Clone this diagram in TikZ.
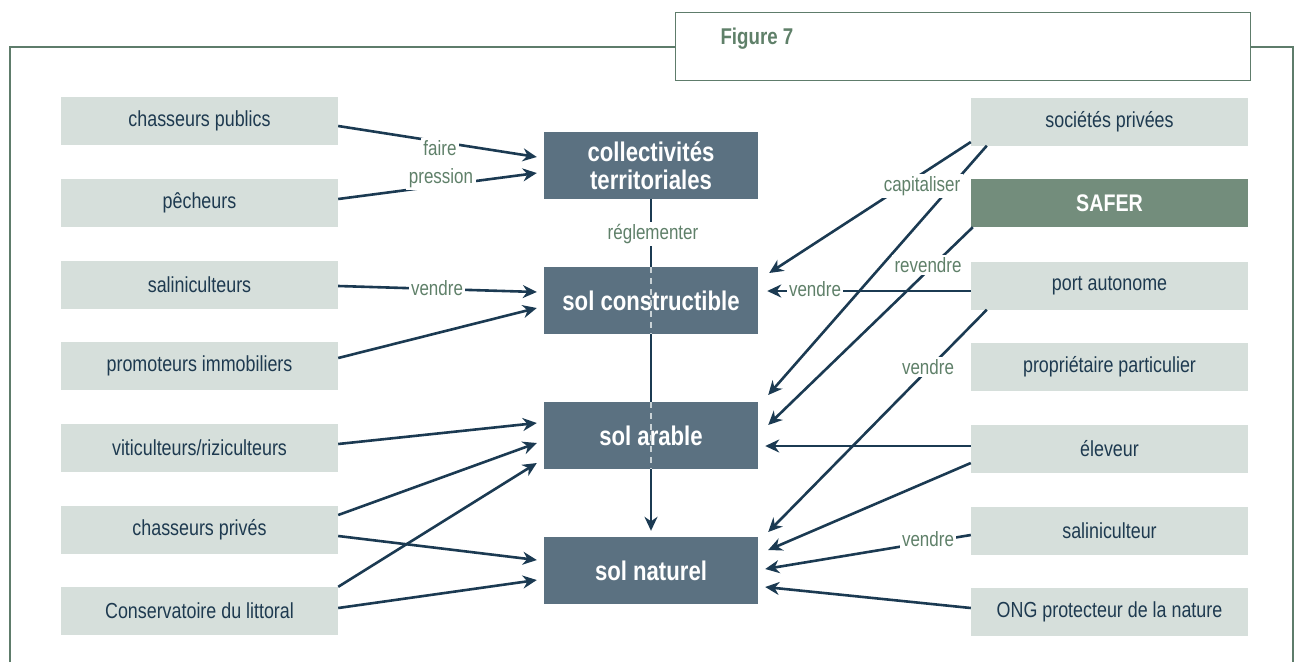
\documentclass[tikz,border=0pt]{standalone}
\usepackage{fontspec}
\setmainfont{Liberation Sans}[FakeStretch=0.82]
\usetikzlibrary{arrows.meta}
\definecolor{framec}{HTML}{5E7C6B}
\definecolor{lightbox}{HTML}{D6DFDB}
\definecolor{darktext}{HTML}{1E3A50}
\definecolor{midbox}{HTML}{5B7181}
\definecolor{saferc}{HTML}{738D7C}
\definecolor{lblc}{HTML}{5F8069}
\definecolor{linec}{HTML}{1B3A52}
\definecolor{dashc}{HTML}{C9D2D6}
\begin{document}
\begin{tikzpicture}[x=1pt,y=-1pt,
  actor/.style={fill=lightbox, minimum width=277pt, minimum height=48pt, inner sep=0pt, text=darktext, font=\fontsize{21.8}{24}\selectfont},
  safer/.style={actor, fill=saferc, text=white, font=\bfseries\fontsize{24}{26}\selectfont},
  soil/.style={fill=midbox, minimum width=214pt, minimum height=67pt, inner sep=0pt, text=white, font=\bfseries\fontsize{27}{28}\selectfont, align=center},
  lbl/.style={fill=white, text=lblc, inner sep=2.5pt, font=\fontsize{20.7}{22}\selectfont},
  conn/.style={draw=linec, line width=2.6pt, -{Stealth[length=14pt,width=13pt,inset=4.5pt]}},
  plain/.style={draw=linec, line width=2.6pt},
  framel/.style={draw=framec, line width=1.3pt},
]
\useasboundingbox (0,0) rectangle (1297,662);
% frame
\draw[framel] (10,662) -- (10,47) -- (675,47);
\draw[framel] (1250,47) -- (1293,47) -- (1293,662);
\node[framel, minimum width=575pt, minimum height=68pt, anchor=north west, inner sep=0pt] (figbox) at (675,12) {};
\node[anchor=west, text=lblc, font=\bfseries\fontsize{22.8}{24}\selectfont] (figt) at (717,39) {Figure 7};

% left actors
\node[actor] (cp) at (199.5,121) {chasseurs publics};
\node[actor] (pe) at (199.5,203) {pêcheurs};
\node[actor] (sa) at (199.5,284.5) {saliniculteurs};
\node[actor] (pr) at (199.5,366) {promoteurs immobiliers};
\node[actor] (vi) at (199.5,448) {viticulteurs/riziculteurs};
\node[actor] (ch) at (199.5,529.5) {chasseurs privés};
\node[actor] (co) at (199.5,611) {Conservatoire du littoral};

% right actors
\node[actor] (so) at (1109.5,121.5) {sociétés privées};
\node[safer] (sf) at (1109.5,203) {SAFER};
\node[actor] (po) at (1109.5,285.5) {port autonome};
\node[actor] (pp) at (1109.5,366.5) {propriétaire particulier};
\node[actor] (el) at (1109.5,449) {éleveur};
\node[actor] (sl) at (1109.5,530.5) {saliniculteur};
\node[actor] (on) at (1109.5,612) {ONG protecteur de la nature};

% centre
\node[soil] (ct) at (651,165.5) {collectivités\\territoriales};
\node[soil] (sc) at (651,300.5) {sol constructible};
\node[soil] (sr) at (651,435.5) {sol arable};
\node[soil] (sn) at (651,570.5) {sol naturel};

% vertical chain
\draw[plain] (ct.south) -- (sc.north);
\draw[plain] (sc.south) -- (sr.north);
\draw[conn, shorten >=6pt] (sr.south) -- (sn.north);
\draw[dashc, line width=1.6pt, dash pattern=on 6pt off 5pt] (sc.north) -- (sc.south);
\draw[dashc, line width=1.6pt, dash pattern=on 6pt off 5pt] (sr.north) -- (sr.south);

% left connectors
\draw[conn] ([yshift=-5pt]cp.east) -- ([xshift=-7pt,yshift=8.5pt]ct.west);
\draw[conn] ([yshift=4pt]pe.east) -- ([xshift=-7pt,yshift=-7.5pt]ct.west);
\draw[conn] ([yshift=-1.5pt]sa.east) -- ([xshift=-7pt,yshift=8.5pt]sc.west);
\draw[conn] ([yshift=8pt]pr.east) -- ([xshift=-7pt,yshift=-7.5pt]sc.west);
\draw[conn] ([yshift=4pt]vi.east) -- ([xshift=-7pt,yshift=12.5pt]sr.west);
\draw[conn] ([yshift=14.5pt]ch.east) -- ([xshift=-7pt,yshift=-7.5pt]sr.west);
\draw[conn] ([yshift=-6.5pt]ch.east) -- ([xshift=-7pt,yshift=10.5pt]sn.west);
\draw[conn] (co.north east) -- ([xshift=-7pt,yshift=-27.5pt]sr.west);
\draw[conn] ([yshift=3pt]co.east) -- ([xshift=-7pt,yshift=-9.5pt]sn.west);

% right connectors
\draw[conn] ([yshift=-20.5pt]so.west) -- ([xshift=11pt,yshift=27.5pt]sc.east);
\draw[conn] ([xshift=16pt]so.south west) -- ([xshift=10pt,yshift=40.5pt]sr.east);
\draw[conn] ([xshift=2pt]sf.south west) -- ([xshift=10pt,yshift=10.5pt]sr.east);
\draw[conn] ([yshift=-5.5pt]po.west) -- ([xshift=9pt,yshift=9.5pt]sc.east);
\draw[conn] ([xshift=16pt]po.south west) -- ([xshift=10pt,yshift=38.5pt]sn.east);
\draw[conn] ([yshift=3pt]el.west) -- ([xshift=7pt,yshift=-10.5pt]sr.east);
\draw[conn] ([yshift=-14pt]el.west) -- ([xshift=10pt,yshift=20.5pt]sn.east);
\draw[conn] ([yshift=-4.5pt]sl.west) -- ([xshift=7pt,yshift=1.5pt]sn.east);
\draw[conn] ([yshift=4pt]on.west) -- ([xshift=7pt,yshift=-16.5pt]sn.east);

% labels
\node[lbl] (l1) at (440,148) {faire};
\node[lbl] (l2) at (441,178) {pression};
\node[lbl] (l3) at (437,288) {vendre};
\node[lbl] (l4) at (653,234) {réglementer};
\node[lbl] (l5) at (922,186) {capitaliser};
\node[lbl] (l6) at (928,265) {revendre};
\node[lbl] (l7) at (815,289) {vendre};
\node[lbl] (l8) at (928,367) {vendre};
\node[lbl] (l9) at (928,539) {vendre};
\end{tikzpicture}
\end{document}
